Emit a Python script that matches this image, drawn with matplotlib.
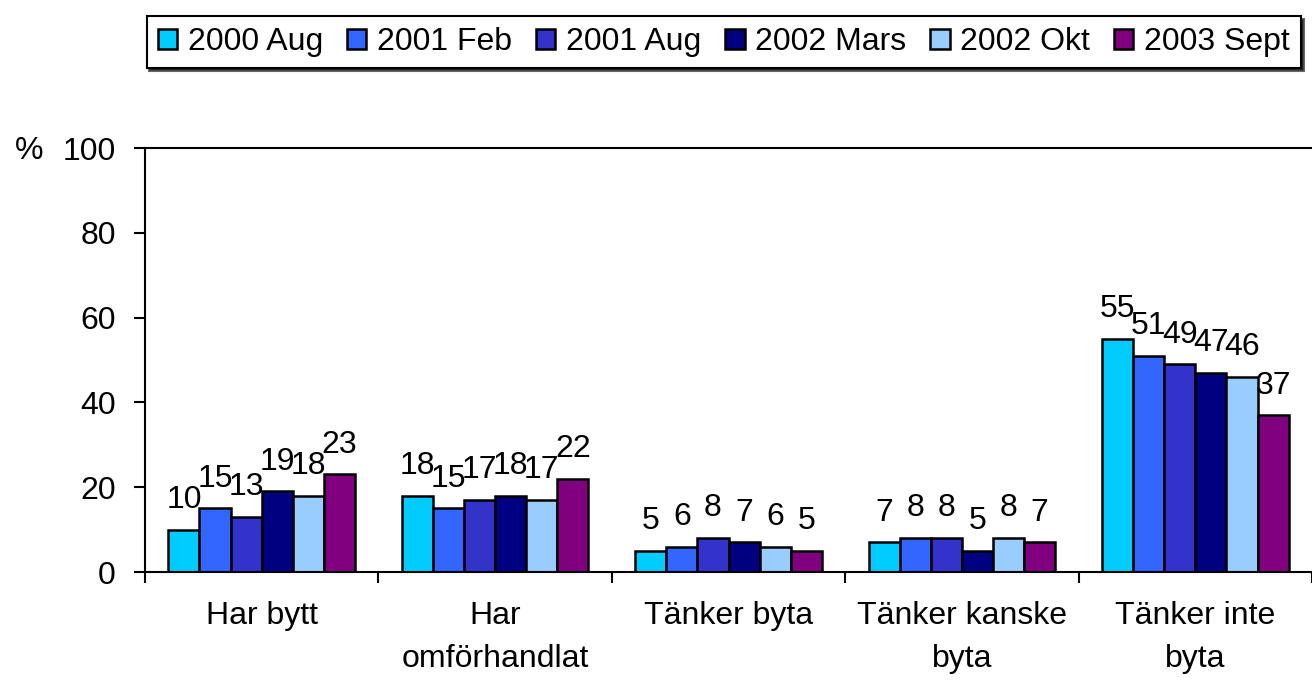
import matplotlib.pyplot as plt
import numpy as np

plt.rcParams['font.family'] = ['Liberation Sans', 'DejaVu Sans']

categories = ['Har bytt', 'Har\nomförhandlat', 'Tänker byta', 'Tänker kanske\nbyta', 'Tänker inte\nbyta']
series = ['2000 Aug', '2001 Feb', '2001 Aug', '2002 Mars', '2002 Okt', '2003 Sept']
values = [
    [10, 18, 5, 7, 55],
    [15, 15, 6, 8, 51],
    [13, 17, 8, 8, 49],
    [19, 18, 7, 5, 47],
    [18, 17, 6, 8, 46],
    [23, 22, 5, 7, 37],
]
colors = ['#00CCFF', '#3366FF', '#3333CC', '#000080', '#99CCFF', '#800080']

fs = 23
fig = plt.figure(figsize=(13.12, 6.8), dpi=100)
ax = fig.add_axes([145 / 1312, 1 - 572 / 680, 1 - 145 / 1312, 424 / 680])

x = np.arange(len(categories))
w = 0.8 / len(series)
for i, (name, vals, c) in enumerate(zip(series, values, colors)):
    pos = x - 0.4 + w * (i + 0.5)
    ax.bar(pos, vals, w, color=c, edgecolor='black', linewidth=1.8, label=name)
    # value labels sit above bars (they overlap, as in the original)
    for p, v in zip(pos, vals):
        ax.annotate(str(v), (p, v), xytext=(0, 10.5), textcoords='offset points',
                    ha='center', va='bottom', fontsize=fs)

ax.set_ylim(0, 100)
ax.set_yticks(range(0, 101, 20))
ax.set_xlim(-0.5, -0.5 + (1312 - 145) / 237.5)
ax.set_xticks(np.arange(-0.5, len(categories), 1.0))
ax.set_xticklabels([])
ax.set_xticks(x, minor=True)
ax.set_xticklabels(categories, minor=True, fontsize=fs, linespacing=1.55)
ax.tick_params(axis='x', which='minor', length=0, pad=21)
ax.tick_params(axis='x', which='major', length=8, width=1.5, direction='out')
ax.tick_params(axis='y', length=8, width=1.5, direction='out', labelsize=fs, pad=13)
for s in ['left', 'bottom', 'top']:
    ax.spines[s].set_linewidth(1.5)
ax.spines['right'].set_visible(False)

fig.text(15 / 1312, 1 - 151 / 680, '%', fontsize=fs, ha='left', va='center')

leg = fig.legend(loc='center', bbox_to_anchor=(724 / 1312, 1 - 42 / 680), ncol=6,
                 fontsize=fs, frameon=True, fancybox=False,
                 shadow={'facecolor': 'black', 'alpha': 0.85},
                 handlelength=0.6, handleheight=0.6, handletextpad=0.34,
                 columnspacing=0.75, borderpad=0.35, borderaxespad=0)
leg.get_frame().set_edgecolor('black')
leg.get_frame().set_linewidth(1.5)

fig.savefig('out.png', dpi=100)
